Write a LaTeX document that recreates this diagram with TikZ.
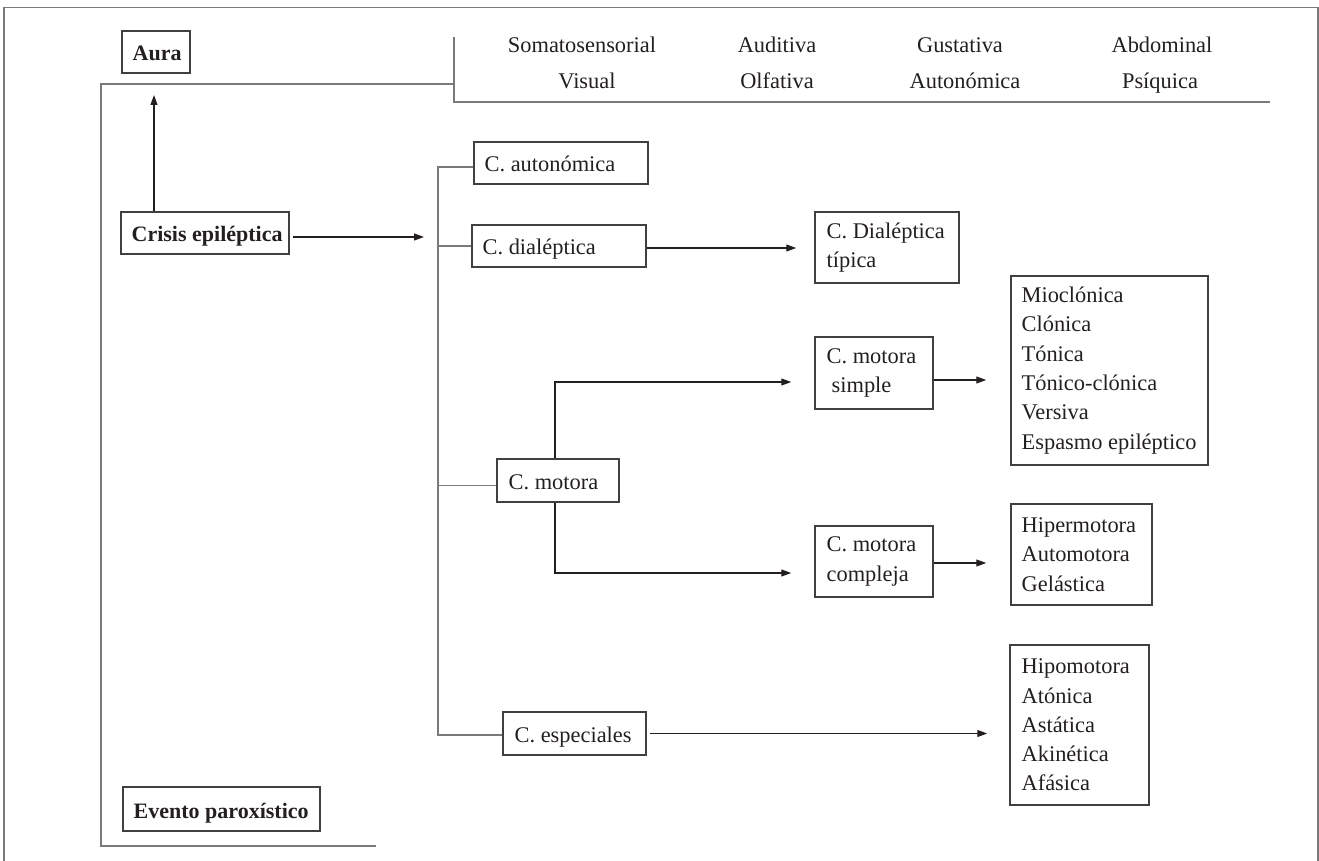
\documentclass[tikz,border=0pt]{standalone}
\usepackage{fontspec}
\setmainfont{Liberation Serif}
\usetikzlibrary{arrows.meta,fit,calc}
\definecolor{ink}{HTML}{231F20}
\definecolor{framec}{HTML}{7A7A7A}
\definecolor{bord}{HTML}{404040}
\begin{document}
\begin{tikzpicture}[x=0.5pt,y=-0.5pt,
  box/.style={draw=bord, line width=0.75pt, inner sep=0pt},
  txt/.style={text=ink, inner sep=0pt, font=\fontsize{11.2}{14.65}\selectfont, align=left},
  btxt/.style={text=ink, inner sep=0pt, font=\fontsize{11}{14.65}\selectfont\bfseries},
  gline/.style={draw=framec, line width=0.75pt},
  conn/.style={draw=ink, line width=0.6pt},
  arr/.style={conn, -{Triangle[length=5pt,width=3.5pt]}},
]
\useasboundingbox (0,0) rectangle (1319,861);

% outer frame
\draw[gline] (4,861) -- (4,7.5) -- (1318,7.5) -- (1318,861);

% boxes
\node[box, fit={(122,31) (190,73)}] (aura) {};
\node[box, fit={(121,212) (289,254)}] (crisis) {};
\node[box, fit={(123,787) (320,831)}] (evento) {};
\node[box, fit={(474,142) (648,184)}] (autonomica) {};
\node[box, fit={(472,225) (646,267)}] (dialeptica) {};
\node[box, fit={(497,459) (619,502)}] (motora) {};
\node[box, fit={(503,712) (646,755)}] (especiales) {};
\node[box, fit={(815,212) (959,283)}] (tipica) {};
\node[box, fit={(815,337) (933,409)}] (simple) {};
\node[box, fit={(815,526) (933,597)}] (compleja) {};
\node[box, fit={(1011,276) (1208,465)}] (mio) {};
\node[box, fit={(1011,504) (1152,605)}] (hiper) {};
\node[box, fit={(1010,645) (1149,805)}] (hipo) {};

% box texts
\node[btxt, anchor=base west] (aura-t) at ([xshift=5.5pt,yshift=-4.5pt]aura.west) {Aura};
\node[btxt, anchor=base west] (crisis-t) at ([xshift=5.5pt,yshift=-4.5pt]crisis.west) {Crisis epiléptica};
\node[btxt, anchor=base west] (evento-t) at ([xshift=5.5pt,yshift=-4.5pt]evento.west) {Evento paroxístico};
\node[txt, anchor=base west] (autonomica-t) at ([xshift=5.5pt,yshift=-4.5pt]autonomica.west) {C. autonómica};
\node[txt, anchor=base west] (dialeptica-t) at ([xshift=5.5pt,yshift=-4.5pt]dialeptica.west) {C. dialéptica};
\node[txt, anchor=base west] (motora-t) at ([xshift=6pt,yshift=-4.5pt]motora.west) {C. motora};
\node[txt, anchor=base west] (especiales-t) at ([xshift=6pt,yshift=-4.5pt]especiales.west) {C. especiales};
\node[txt, anchor=west] (tipica-t) at ([xshift=6pt]tipica.west) {C. Dialéptica\\típica};
\node[txt, anchor=west] (simple-t) at ([xshift=6pt]simple.west) {C. motora\\\hspace*{2.5pt}simple};
\node[txt, anchor=west] (compleja-t) at ([xshift=6pt]compleja.west) {C. motora\\compleja};
\node[txt, anchor=west] (mio-t) at ([xshift=5.5pt]mio.west) {Mioclónica\\Clónica\\Tónica\\Tónico-clónica\\Versiva\\Espasmo epiléptico};
\node[txt, anchor=west] (hiper-t) at ([xshift=5.5pt]hiper.west) {Hipermotora\\Automotora\\Gelástica};
\node[txt, anchor=west] (hipo-t) at ([xshift=6pt]hipo.west) {Hipomotora\\Atónica\\Astática\\Akinética\\Afásica};

% aura types
\node[txt, anchor=base] (somato) at (582,53) {Somatosensorial};
\node[txt, anchor=base] (visual) at (587,89) {Visual};
\node[txt, anchor=base] (auditiva) at (777,53) {Auditiva};
\node[txt, anchor=base] (olfativa) at (777,89) {Olfativa};
\node[txt, anchor=base] (gustativa) at (960,53) {Gustativa};
\node[txt, anchor=base] (autonomica2) at (965,89) {Autonómica};
\node[txt, anchor=base] (abdominal) at (1162,53) {Abdominal};
\node[txt, anchor=base] (psiquica) at (1160,89) {Psíquica};

% brackets
\draw[gline] (376,846) -- (101,846) -- (101,84) -- (454,84);
\draw[gline] (454,37) -- (454,102) -- (1270,102);

% crisis arrows
\coordinate (auratip) at (154,95);
\coordinate (brin) at (424,237);
\draw[arr] (crisis.north -| auratip) -- (auratip);
\draw[arr] ([xshift=1.5pt,yshift=-2pt]crisis.east) -- (brin);

% main bracket
\coordinate (bx) at (438,0);
\draw[gline] ([yshift=-2pt]autonomica.west) -- ([yshift=-2pt]autonomica.west -| bx) -- ([yshift=-0.75pt]especiales.west -| bx) -- ([yshift=-0.75pt]especiales.west);
\draw[gline] (dialeptica.west) -- (dialeptica.west -| bx);
\draw[gline] ([yshift=-2.5pt]motora.west) -- ([yshift=-2.5pt]motora.west -| bx);

% connectors to the right
\draw[arr, shorten >=9pt] ([yshift=-1pt]dialeptica.east) -- ([yshift=-1pt]dialeptica.east -| tipica.west);
\coordinate (mu) at (555,382);
\coordinate (md) at (555,573);
\draw[arr, shorten >=11.5pt] (motora.north -| mu) -- (mu) -- (mu -| simple.west);
\draw[arr, shorten >=11.5pt] (motora.south -| md) -- (md) -- (md -| compleja.west);
\draw[arr, shorten >=12pt] ([yshift=-3.5pt]simple.east) -- ([yshift=-3.5pt]simple.east -| mio.west);
\draw[arr, shorten >=12pt] ([yshift=-0.75pt]compleja.east) -- ([yshift=-0.75pt]compleja.east -| hiper.west);
\draw[arr, shorten >=11pt] ([xshift=1.5pt]especiales.east) -- (especiales.east -| hipo.west);
\end{tikzpicture}
\end{document}
